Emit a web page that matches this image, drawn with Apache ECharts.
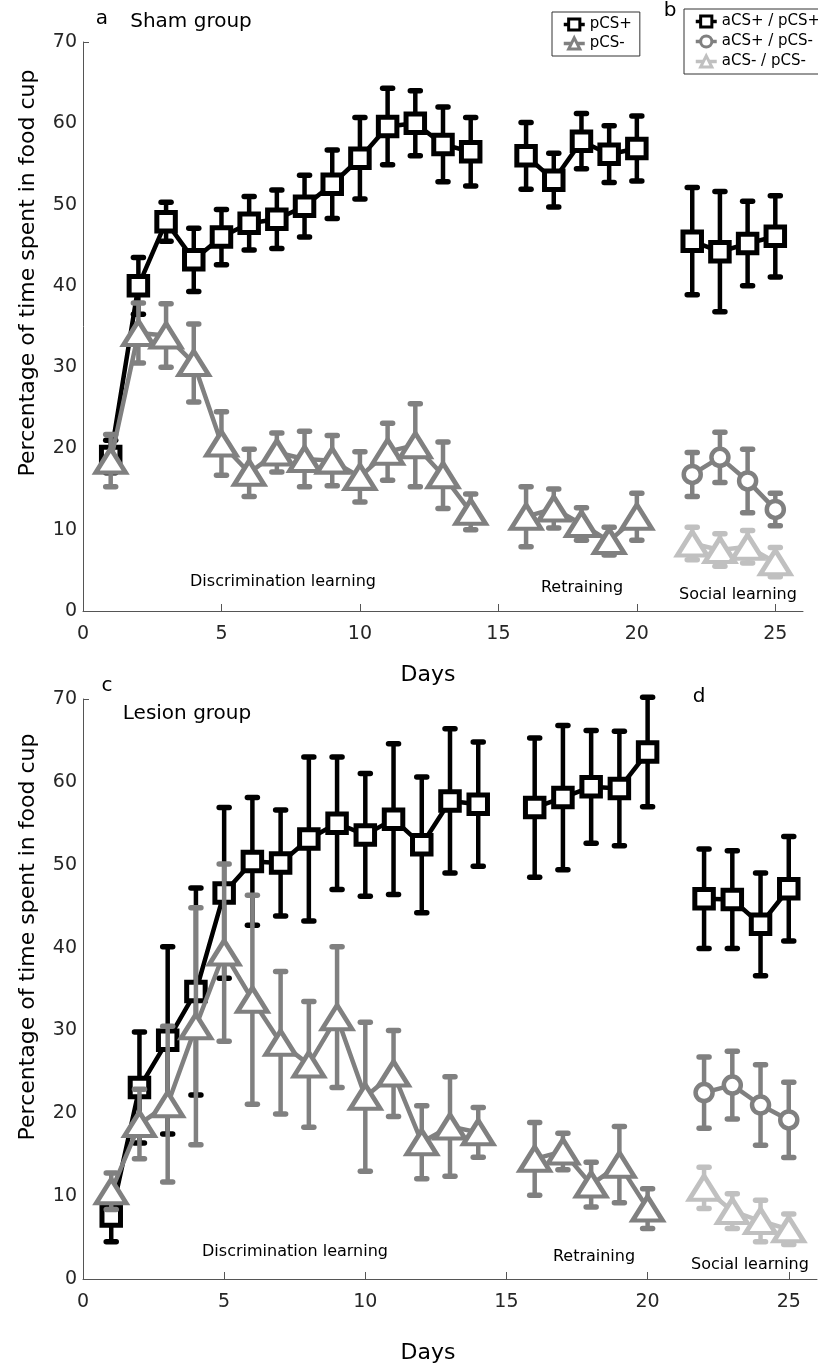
<!DOCTYPE html>
<html>
<head>
<meta charset="utf-8">
<title>Time spent in food cup</title>
<script src="https://cdn.jsdelivr.net/npm/echarts@6/dist/echarts.min.js"></script>
<style>
  html, body { margin: 0; padding: 0; background: #fff; }
  #chart { width: 818px; height: 1366px; }
</style>
</head>
<body>
<div id="chart"></div>
<script>
// Training days (day 15 has no session) and social-learning test days
const days = [1, 2, 3, 4, 5, 6, 7, 8, 9, 10, 11, 12, 13, 14, 16, 17, 18, 19, 20];
const socialDays = [22, 23, 24, 25];
const xTicks = [0, 5, 10, 15, 20, 25];

// Sham group (panels a, b): mean and SEM
const shamPlusMean  = [19, 40, 47.9, 43.2, 46, 47.7, 48.2, 49.8, 52.5, 55.7, 59.6, 60, 57.4, 56.5, 56, 53, 57.8, 56.2, 56.9];
const shamPlusErr   = [2, 3.5, 2.4, 3.9, 3.4, 3.3, 3.6, 3.8, 4.2, 5, 4.7, 4, 4.6, 4.2, 4.1, 3.3, 3.4, 3.5, 4];
const shamMinusMean = [18.5, 34.2, 33.9, 30.5, 20.6, 17, 19.5, 18.7, 18.5, 16.5, 19.6, 20.4, 16.7, 12.2, 11.6, 12.6, 10.7, 8.6, 11.6];
const shamMinusErr  = [3.2, 3.7, 3.9, 4.8, 3.9, 2.9, 2.4, 3.4, 3.1, 3.1, 3.5, 5.1, 4.1, 2.2, 3.7, 2.4, 2.0, 1.7, 2.9];
const shamPPMean = [45.5, 44.2, 45.2, 46.1];
const shamPPErr  = [6.6, 7.4, 5.2, 5.0];
const shamPMMean = [16.8, 18.9, 16.0, 12.5];
const shamPMErr  = [2.7, 3.1, 3.9, 2.0];
const shamMMMean = [8.3, 7.5, 7.9, 6.0];
const shamMMErr  = [2.0, 2.0, 2.0, 1.8];

// Lesion group (panels c, d): mean and SEM
const lesionPlusMean  = [7.6, 23.1, 28.8, 34.7, 46.6, 50.4, 50.2, 53.1, 55, 53.6, 55.5, 52.4, 57.7, 57.3, 56.9, 58.1, 59.4, 59.2, 63.6];
const lesionPlusErr   = [3.1, 6.7, 11.3, 12.5, 10.3, 7.7, 6.4, 9.9, 8, 7.4, 9.1, 8.2, 8.7, 7.5, 8.4, 8.7, 6.8, 6.9, 6.6];
const lesionMinusMean = [10.6, 18.7, 21.1, 30.5, 39.4, 33.7, 28.5, 25.9, 31.6, 22, 24.8, 16.5, 18.4, 17.7, 14.5, 15.4, 11.4, 13.8, 8.5];
const lesionMinusErr  = [2.2, 4.2, 9.4, 14.3, 10.7, 12.6, 8.6, 7.6, 8.5, 9.0, 5.2, 4.4, 6.0, 3.0, 4.4, 2.2, 2.7, 4.6, 2.4];
const lesionPPMean = [45.9, 45.8, 42.8, 47.1];
const lesionPPErr  = [6.0, 5.9, 6.2, 6.3];
const lesionPMMean = [22.5, 23.4, 21.0, 19.2];
const lesionPMErr  = [4.3, 4.1, 4.85, 4.55];
const lesionMMMean = [11.0, 8.2, 7.0, 6.0];
const lesionMMErr  = [2.5, 2.1, 2.5, 1.85];

const BLACK = '#000000', GRAY = '#808080', LIGHT = '#c0c0c0';
const FONT = '"DejaVu Sans", Verdana, sans-serif';

const MARK = {
  square:   { symbol: 'rect', symbolSize: 18.5, border: 5 },
  triangle: { symbol: 'triangle', symbolSize: [30, 24], border: 4.5 },
  circle:   { symbol: 'circle', symbolSize: 17, border: 4.5 }
};

// line data with a break wherever days are not consecutive
function lineData(xs, ys) {
  const out = [];
  xs.forEach((x, i) => {
    if (i > 0 && x - xs[i - 1] > 1) out.push([x - 1, '-']);
    out.push([x, ys[i]]);
  });
  return out;
}

function errData(xs, ys, es) {
  return xs.map((x, i) => [x, ys[i] - es[i], ys[i] + es[i]]);
}

function errorBars(gridIdx, xs, ys, es, color, z) {
  return {
    type: 'custom',
    xAxisIndex: gridIdx, yAxisIndex: gridIdx,
    z: z, silent: true,
    data: errData(xs, ys, es),
    renderItem: function (params, api) {
      const x = api.value(0);
      const lo = api.coord([x, api.value(1)]);
      const hi = api.coord([x, api.value(2)]);
      const cap = 5;
      const capStyle = { stroke: color, lineWidth: 5.5, lineCap: 'round' };
      return {
        type: 'group',
        children: [
          { type: 'line', shape: { x1: lo[0], y1: lo[1], x2: hi[0], y2: hi[1] },
            style: { stroke: color, lineWidth: 4.5 } },
          { type: 'line', shape: { x1: lo[0] - cap, y1: lo[1], x2: lo[0] + cap, y2: lo[1] }, style: capStyle },
          { type: 'line', shape: { x1: hi[0] - cap, y1: hi[1], x2: hi[0] + cap, y2: hi[1] }, style: capStyle }
        ]
      };
    }
  };
}

function meanLine(gridIdx, name, xs, ys, color, mark, z) {
  return {
    type: 'line', name: name,
    xAxisIndex: gridIdx, yAxisIndex: gridIdx,
    z: z,
    data: lineData(xs, ys),
    symbol: mark.symbol, symbolSize: mark.symbolSize,
    lineStyle: { color: color, width: 4.5 },
    itemStyle: { color: '#ffffff', borderColor: color, borderWidth: mark.border },
    emphasis: { disabled: true }
  };
}

function group(gridIdx, name, xs, ys, es, color, mark, z) {
  return [errorBars(gridIdx, xs, ys, es, color, z), meanLine(gridIdx, name, xs, ys, color, mark, z + 1)];
}

const series = [].concat(
  group(0, 'pCS+', days, shamPlusMean, shamPlusErr, BLACK, MARK.square, 2),
  group(0, 'pCS-', days, shamMinusMean, shamMinusErr, GRAY, MARK.triangle, 4),
  group(0, 'aCS+ / pCS+', socialDays, shamPPMean, shamPPErr, BLACK, MARK.square, 2),
  group(0, 'aCS+ / pCS-', socialDays, shamPMMean, shamPMErr, GRAY, MARK.circle, 4),
  group(0, 'aCS- / pCS-', socialDays, shamMMMean, shamMMErr, LIGHT, MARK.triangle, 6),
  group(1, 'pCS+', days, lesionPlusMean, lesionPlusErr, BLACK, MARK.square, 2),
  group(1, 'pCS-', days, lesionMinusMean, lesionMinusErr, GRAY, MARK.triangle, 4),
  group(1, 'aCS+ / pCS+', socialDays, lesionPPMean, lesionPPErr, BLACK, MARK.square, 2),
  group(1, 'aCS+ / pCS-', socialDays, lesionPMMean, lesionPMErr, GRAY, MARK.circle, 4),
  group(1, 'aCS- / pCS-', socialDays, lesionMMMean, lesionMMErr, LIGHT, MARK.triangle, 6)
);

function xAxis(gridIdx) {
  return {
    type: 'value', gridIndex: gridIdx, min: 0, max: 26, interval: 5,
    axisLine: { show: true, onZero: false, lineStyle: { color: '#555', width: 1 } },
    axisTick: { show: true, inside: true, length: 7, customValues: xTicks.slice(1),
                lineStyle: { color: '#555', width: 1 } },
    axisLabel: { customValues: xTicks, margin: 14, color: '#262626', fontSize: 19, fontFamily: FONT },
    splitLine: { show: false }
  };
}

function yAxis(gridIdx) {
  return {
    type: 'value', gridIndex: gridIdx, min: 0, max: 70, interval: 10,
    axisLine: { show: true, onZero: false, lineStyle: { color: '#555', width: 1 } },
    axisTick: { show: true, inside: true, length: 6, customValues: [70],
                lineStyle: { color: '#555', width: 1 } },
    axisLabel: { margin: 6, color: '#262626', fontSize: 19, fontFamily: FONT },
    splitLine: { show: false }
  };
}

function txt(x, y, text, size, extra) {
  return Object.assign({
    type: 'text', x: x, y: y, silent: true,
    style: { text: text, fill: '#000', font: size + 'px ' + FONT, align: 'center', verticalAlign: 'middle' }
  }, extra || {});
}

const legendText = { fontSize: 15, fontFamily: FONT, color: '#000' };
const legendIcon = {
  itemWidth: 21, itemHeight: 14,
  lineStyle: { width: 3.5 },
  itemStyle: { borderWidth: 3 }
};

const option = {
  animation: false,
  backgroundColor: '#ffffff',
  grid: [
    { left: 83, top: 42, width: 720, height: 569 },
    { left: 83, top: 699, width: 734, height: 580 }
  ],
  xAxis: [xAxis(0), xAxis(1)],
  yAxis: [yAxis(0), yAxis(1)],
  legend: [
    Object.assign({ data: ['pCS+', 'pCS-'], left: 552, top: 12, orient: 'vertical',
      itemGap: 4, padding: [5, 8, 5, 10],
      borderColor: '#333', borderWidth: 1, textStyle: legendText, selectedMode: false }, legendIcon),
    Object.assign({ data: ['aCS+ / pCS+', 'aCS+ / pCS-', 'aCS- / pCS-'], left: 684, top: 9, orient: 'vertical',
      itemGap: 5, padding: [5, 10, 5, 10],
      borderColor: '#333', borderWidth: 1, textStyle: legendText, selectedMode: false }, legendIcon)
  ],
  graphic: [
    txt(102, 19, 'a', 20),
    txt(191, 22, 'Sham group', 20),
    txt(670, 11, 'b', 20),
    txt(107, 686, 'c', 20),
    txt(187, 714, 'Lesion group', 20),
    txt(699, 697, 'd', 20),
    txt(28, 273, 'Percentage of time spent in food cup', 22, { rotation: Math.PI / 2 }),
    txt(28, 937, 'Percentage of time spent in food cup', 22, { rotation: Math.PI / 2 }),
    txt(428, 675, 'Days', 22),
    txt(428, 1353, 'Days', 22),
    txt(283, 582, 'Discrimination learning', 16),
    txt(582, 588, 'Retraining', 16),
    txt(738, 595, 'Social learning', 16),
    txt(295, 1252, 'Discrimination learning', 16),
    txt(594, 1257, 'Retraining', 16),
    txt(750, 1265, 'Social learning', 16)
  ],
  series: series
};

const chart = echarts.init(document.getElementById('chart'), null, { renderer: 'canvas' });
chart.setOption(option);
</script>
</body>
</html>
